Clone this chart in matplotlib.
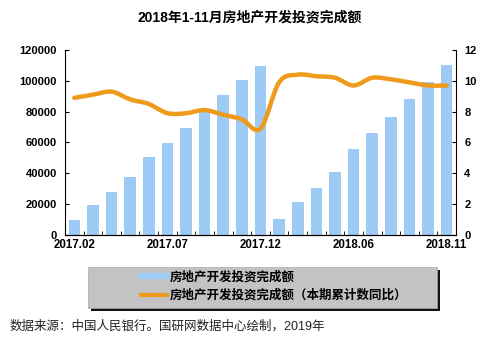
import numpy as np
import matplotlib
matplotlib.use("Agg")
import matplotlib.pyplot as plt
from matplotlib.path import Path
from matplotlib.patches import PathPatch, Rectangle
from matplotlib.lines import Line2D

plt.rcParams['font.family'] = ['Liberation Sans', 'Noto Sans CJK SC', 'DejaVu Sans']

months = ['2017.02', '2017.03', '2017.04', '2017.05', '2017.06', '2017.07', '2017.08',
          '2017.09', '2017.10', '2017.11', '2017.12',
          '2018.02', '2018.03', '2018.04', '2018.05', '2018.06', '2018.07', '2018.08',
          '2018.09', '2018.10', '2018.11']
investment = [9854, 19292, 27732, 37732, 50610, 59761, 69494, 80644, 90544, 100387, 109799,
              10264, 21603, 30592, 40938, 55531, 65888, 76519, 88185, 99325, 110083]
yoy = [8.9, 9.1, 9.3, 8.8, 8.5, 7.9, 7.9, 8.1, 7.8, 7.5, 6.9,
       9.9, 10.4, 10.3, 10.2, 9.7, 10.2, 10.1, 9.9, 9.7, 9.7]
tick_labels_shown = ['2017.02', '2017.07', '2017.12', '2018.06', '2018.11']

bar_color = '#9DCBF5'
line_color = '#EE9A1A'

fig = plt.figure(figsize=(5.0, 3.45), dpi=100)
ax = fig.add_axes([0.13, 0.319, 0.782, 0.536])
x = np.arange(len(months))
ax.bar(x, investment, width=0.62, color=bar_color, zorder=2)
ax.set_xlim(-0.5, len(months) - 0.5)
ax.set_ylim(0, 120000)
ax.set_yticks(np.arange(0, 120001, 20000))
ax.tick_params(axis='y', direction='in', length=3, labelsize=8, pad=6)
for t in ax.get_yticklabels():
    t.set_fontweight('bold')

pos = [months.index(m) for m in tick_labels_shown]
ax.set_xticks(pos)
ax.set_xticklabels(tick_labels_shown, fontsize=8.3, fontweight='bold')
ax.tick_params(axis='x', which='major', length=0, pad=3)
ax.set_xticks(np.arange(0.5, len(months) - 1, 1.0), minor=True)
ax.tick_params(axis='x', which='minor', direction='in', length=3)
ax.spines['top'].set_visible(False)
ax.spines['right'].set_visible(False)

ax2 = ax.twinx()
ax2.set_ylim(0, 12)
ax2.set_yticks(np.arange(0, 13, 2))
ax2.tick_params(axis='y', direction='in', length=3, labelsize=8, pad=6)
for t in ax2.get_yticklabels():
    t.set_fontweight('bold')
ax2.spines['top'].set_visible(False)
ax2.spines['left'].set_visible(False)

# smooth (Catmull-Rom as cubic Bezier) line through the data points
px = x.astype(float)
py = np.array(yoy, dtype=float)
verts = [(px[0], py[0])]
codes = [Path.MOVETO]
n = len(px)
for i in range(n - 1):
    p0 = (px[max(i - 1, 0)], py[max(i - 1, 0)])
    p1 = (px[i], py[i])
    p2 = (px[i + 1], py[i + 1])
    p3 = (px[min(i + 2, n - 1)], py[min(i + 2, n - 1)])
    c1 = (p1[0] + (p2[0] - p0[0]) / 6, p1[1] + (p2[1] - p0[1]) / 6)
    c2 = (p2[0] - (p3[0] - p1[0]) / 6, p2[1] - (p3[1] - p1[1]) / 6)
    verts += [c1, c2, p2]
    codes += [Path.CURVE4] * 3
ax2.add_patch(PathPatch(Path(verts, codes), facecolor='none', edgecolor=line_color,
                        lw=3.2, capstyle='round', joinstyle='round', zorder=3))

fig.text(0.5, 0.95, '2018年1-11月房地产开发投资完成额', ha='center', va='center',
         fontsize=10, fontweight='bold')

# legend box with shadow
lx0, lx1 = 88 / 500, 437 / 500
ly0, ly1 = 1 - 308 / 345, 1 - 267 / 345
fig.patches.append(Rectangle((lx0 + 3 / 500, ly0 - 3 / 345), lx1 - lx0, ly1 - ly0,
                             transform=fig.transFigure, facecolor='#111111',
                             edgecolor='none', zorder=1))
fig.patches.append(Rectangle((lx0, ly0), lx1 - lx0, ly1 - ly0,
                             transform=fig.transFigure, facecolor='#C3C3C3',
                             edgecolor='#AAAAAA', lw=0.5, zorder=2))
handles = [Line2D([], [], color=bar_color, lw=4.5),
           Line2D([], [], color=line_color, lw=3)]
labels = ['房地产开发投资完成额', '房地产开发投资完成额（本期累计数同比）']
leg = fig.legend(handles, labels, loc='upper left',
                 bbox_to_anchor=(136 / 500, 1 - 266 / 345), frameon=False,
                 prop={'size': 9, 'weight': 'bold'}, handlelength=2.1,
                 handletextpad=0.2, labelspacing=0.45, borderaxespad=0)
leg.set_zorder(3)

fig.text(10 / 500, 1 - 326 / 345, '数据来源：中国人民银行。国研网数据中心绘制，2019年',
         ha='left', va='center', fontsize=9, color='#222222')

fig.savefig('out.png', dpi=100)
